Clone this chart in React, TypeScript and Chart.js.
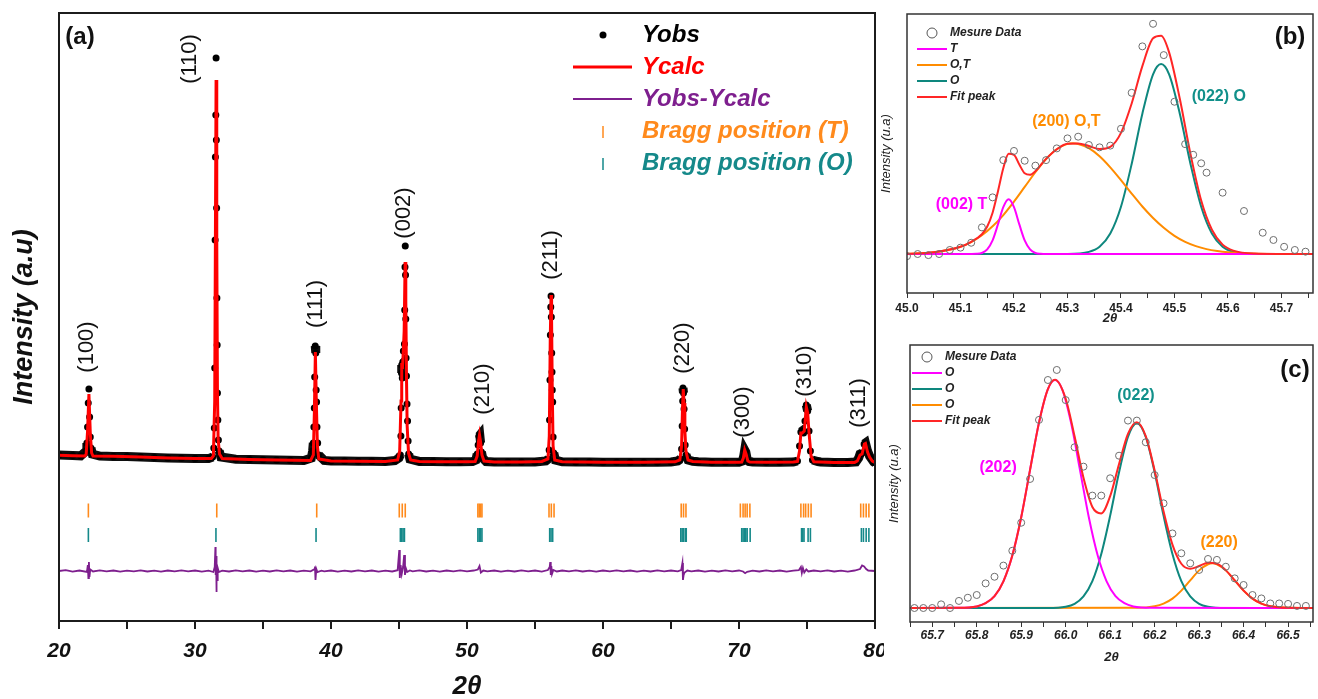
import { useEffect, useRef } from "react";
import { Chart, registerables } from "chart.js";

Chart.register(...registerables);

const SANS = "'Liberation Sans', Arial, Helvetica, sans-serif";

/* ---------------- Panel (a): Rietveld refinement, 2θ = 20–80° ---------------- */

// observed intensity (counts) vs 2θ
const yObs: [number, number][] = [
  [20, 1160], [21, 1156], [21.6, 1152], [22.0, 1200], [22.05, 1280], [22.1, 1440], [22.15, 1680], [22.2, 1820],
  [22.25, 1540], [22.3, 1340], [22.35, 1230], [22.45, 1170], [23, 1150], [24, 1146], [25, 1144], [26, 1140],
  [27, 1134], [28, 1131], [29, 1127], [30, 1125], [31, 1124], [31.3, 1140], [31.38, 1230], [31.42, 1430],
  [31.45, 2030], [31.48, 3310], [31.5, 4140], [31.53, 4560], [31.55, 5130], [31.57, 4310], [31.59, 3630],
  [31.61, 2730], [31.63, 2260], [31.65, 1780], [31.68, 1510], [31.72, 1310], [31.78, 1200], [31.9, 1140],
  [33, 1118], [34, 1115], [35, 1112], [36, 1110], [37, 1107], [38, 1105], [38.55, 1130], [38.65, 1200],
  [38.7, 1280], [38.74, 1440], [38.77, 1630], [38.8, 1940], [38.84, 2250], [38.88, 2180], [38.91, 1810],
  [38.94, 1690], [38.97, 1440], [39.02, 1280], [39.1, 1160], [39.5, 1105], [40, 1100], [41, 1099], [42, 1098],
  [43, 1097], [44, 1096], [44.7, 1105], [45.0, 1130], [45.1, 1160], [45.14, 1350], [45.16, 1630], [45.18, 1980],
  [45.2, 2060], [45.24, 1930], [45.28, 2090], [45.32, 2200], [45.36, 2100], [45.4, 2270], [45.42, 2610],
  [45.44, 3040], [45.46, 3250], [45.48, 2960], [45.5, 2520], [45.52, 2130], [45.55, 1950], [45.59, 1670],
  [45.63, 1500], [45.67, 1300], [45.71, 1170], [45.8, 1120], [46.5, 1096], [47.5, 1094], [48.5, 1093],
  [49.5, 1092], [50.4, 1094], [50.65, 1110], [50.75, 1170], [50.82, 1260], [50.88, 1350], [50.94, 1360],
  [51.0, 1280], [51.06, 1190], [51.15, 1130], [51.4, 1095], [52, 1091], [53, 1090], [54, 1090], [55, 1091],
  [55.8, 1100], [55.98, 1120], [56.04, 1210], [56.07, 1510], [56.1, 1910], [56.13, 2360], [56.16, 2640],
  [56.18, 2750], [56.2, 2540], [56.23, 2180], [56.25, 1990], [56.27, 1810], [56.3, 1690], [56.33, 1340],
  [56.38, 1180], [56.5, 1110], [57, 1092], [58, 1090], [59, 1090], [60, 1088], [61, 1088], [62, 1087],
  [63, 1087], [64, 1088], [65, 1090], [65.5, 1100], [65.7, 1120], [65.78, 1220], [65.82, 1450], [65.86, 1700],
  [65.88, 1830], [65.92, 1780], [65.96, 1620], [66.0, 1420], [66.04, 1260], [66.1, 1160], [66.25, 1110],
  [66.6, 1098], [67, 1092], [68, 1088], [69, 1087], [70, 1088], [70.25, 1100], [70.35, 1150], [70.42, 1210],
  [70.5, 1190], [70.6, 1120], [70.75, 1095], [71, 1090], [72, 1088], [73, 1087], [74, 1090], [74.3, 1100],
  [74.45, 1250], [74.55, 1390], [74.65, 1400], [74.75, 1380], [74.85, 1500], [74.95, 1660], [75.05, 1600],
  [75.15, 1400], [75.25, 1200], [75.4, 1110], [75.8, 1095], [76, 1090], [77, 1086], [78, 1085], [78.6, 1090],
  [78.8, 1130], [78.9, 1170], [79.05, 1180], [79.2, 1270], [79.3, 1280], [79.45, 1200], [79.6, 1150],
  [79.75, 1120], [79.9, 1090], [80, 1082],
];

// calculated profile
const yCalc: [number, number][] = [
  [20, 1158], [21, 1153], [21.9, 1150], [22.0, 1170], [22.1, 1400], [22.2, 1770], [22.3, 1380], [22.4, 1180],
  [22.5, 1150], [24, 1147], [26, 1140], [28, 1130], [30, 1125], [31.2, 1125], [31.35, 1150], [31.45, 1700],
  [31.5, 3300], [31.55, 4910], [31.6, 3300], [31.65, 1800], [31.7, 1320], [31.8, 1170], [32, 1125], [34, 1115],
  [36, 1110], [38.5, 1106], [38.7, 1160], [38.78, 1600], [38.85, 2190], [38.92, 1700], [39.0, 1250],
  [39.1, 1120], [40, 1100], [42, 1098], [44, 1096], [44.9, 1110], [45.05, 1200], [45.15, 1700], [45.2, 2080],
  [45.25, 2020], [45.3, 2150], [45.38, 2400], [45.45, 3090], [45.5, 2700], [45.55, 1950], [45.6, 1450],
  [45.7, 1180], [45.85, 1110], [46.5, 1095], [48, 1093], [50, 1092], [50.6, 1095], [50.75, 1150],
  [50.85, 1300], [50.92, 1360], [51.0, 1290], [51.1, 1160], [51.25, 1100], [52, 1090], [54, 1090],
  [55.5, 1095], [55.95, 1120], [56.05, 1350], [56.12, 2300], [56.18, 2760], [56.22, 2500], [56.27, 1800],
  [56.33, 1250], [56.45, 1110], [57, 1092], [60, 1088], [63, 1087], [65.3, 1092], [65.65, 1110],
  [65.78, 1250], [65.84, 1600], [65.9, 1820], [65.96, 1680], [66.02, 1400], [66.1, 1200], [66.25, 1110],
  [66.6, 1095], [68, 1088], [70, 1088], [70.2, 1090], [70.32, 1130], [70.42, 1210], [70.52, 1170],
  [70.65, 1100], [70.8, 1090], [72, 1088], [74, 1090], [74.3, 1095], [74.45, 1200], [74.55, 1380],
  [74.65, 1380], [74.8, 1400], [74.95, 1640], [75.05, 1580], [75.15, 1380], [75.3, 1150], [75.5, 1092],
  [77, 1086], [78.5, 1086], [78.7, 1100], [78.9, 1160], [79.05, 1170], [79.22, 1270], [79.3, 1275],
  [79.45, 1190], [79.6, 1140], [79.8, 1100], [80, 1085],
];

// difference curve Yobs - Ycalc
const yDiff: [number, number][] = [
  [20, 0], [20.5, 8], [21, -6], [21.5, 5], [22.05, -10], [22.12, 60], [22.16, -70], [22.2, 90], [22.24, -60],
  [22.3, 15], [22.5, -5], [23, 6], [23.5, -4], [24, 5], [24.5, -6], [25, 4], [25.5, -3], [26, 6], [26.5, -5],
  [27, 3], [27.5, -6], [28, 5], [28.5, -4], [29, 6], [29.5, -3], [30, 5], [30.5, -6], [31, 4], [31.35, -10],
  [31.45, 40], [31.5, 240], [31.52, -40], [31.55, 150], [31.57, -210], [31.6, 60], [31.63, -90], [31.67, 30],
  [31.75, -10], [32, 4], [32.5, -5], [33, 6], [33.5, -4], [34, 5], [34.5, -6], [35, 3], [35.5, -5], [36, 6],
  [36.5, -4], [37, 5], [37.5, -6], [38, 4], [38.5, -3], [38.75, 15], [38.82, 45], [38.86, -90], [38.92, 20],
  [39.0, -10], [39.3, 4], [39.5, -4], [40, 5], [40.5, -6], [41, 4], [41.5, -5], [42, 6], [42.5, -3], [43, 5],
  [43.5, -6], [44, 4], [44.5, -5], [44.9, 8], [45.02, 210], [45.06, -70], [45.12, 60], [45.2, -30], [45.3, 40],
  [45.38, 160], [45.44, -40], [45.5, 30], [45.6, -10], [45.8, 5], [46, -4], [46.5, 6], [47, -5], [47.5, 4],
  [48, -6], [48.5, 5], [49, -3], [49.5, 6], [50, -4], [50.5, 5], [50.8, 15], [50.92, 50], [51.02, -15],
  [51.2, 5], [51.5, -4], [52, 5], [52.5, -6], [53, 4], [53.5, -5], [54, 6], [54.5, -3], [55, 5], [55.5, -6],
  [55.95, 10], [56.08, 40], [56.12, 90], [56.16, -40], [56.2, 50], [56.25, -30], [56.35, 10], [56.6, -5],
  [57, 5], [57.5, -4], [58, 6], [58.5, -5], [59, 4], [59.5, -6], [60, 5], [60.5, -3], [61, 6], [61.5, -4],
  [62, 5], [62.5, -6], [63, 4], [63.5, -5], [64, 6], [64.5, -3], [65, 5], [65.5, -4], [65.75, 10],
  [65.84, 80], [65.88, -90], [65.93, -40], [66.0, -15], [66.2, 5], [66.5, -4], [67, 5], [67.5, -6], [68, 4],
  [68.5, -5], [69, 6], [69.5, -3], [70, 5], [70.3, -5], [70.45, -22], [70.6, -8], [71, 4], [71.5, -5],
  [72, 6], [72.5, -4], [73, 5], [73.5, -6], [74, 4], [74.4, 8], [74.55, 40], [74.62, -20], [74.7, 30],
  [74.8, -15], [74.95, 15], [75.1, -5], [75.5, 5], [76, -4], [76.5, 6], [77, -5], [77.5, 4], [78, -6],
  [78.5, 5], [78.9, 20], [79.05, 55], [79.2, 45], [79.35, 20], [79.5, 5], [80, 0],
];

// Bragg reflections of the two phases
const braggT = [
  22.16, 31.6, 38.95, 45.02, 45.24, 45.46, 50.8, 50.9, 51.0, 51.1, 56.03, 56.2, 56.4, 65.75, 65.92, 66.1,
  70.1, 70.3, 70.45, 70.6, 70.8, 74.55, 74.75, 74.9, 75.1, 75.3, 78.95, 79.15, 79.35, 79.55,
];
const braggO = [
  22.16, 31.54, 38.9, 45.1, 45.2, 45.3, 45.4, 50.8, 50.9, 51.0, 51.1, 56.08, 56.18, 56.3, 65.72, 65.82,
  65.92, 66.05, 66.12, 70.2, 70.3, 70.4, 70.5, 70.6, 70.82, 74.6, 74.68, 74.78, 75.08, 75.25, 79.0, 79.15,
  79.35, 79.55,
];
const BRAGG_T_ROW = 605;
const BRAGG_O_ROW = 360;

// Miller indices placed next to the reflections
const hklText = ["(100)", "(110)", "(111)", "(002)", "(210)", "(211)", "(220)", "(300)", "(310)", "(311)"];
const hklTheta = [22.06, 29.63, 38.9, 45.37, 51.18, 56.18, 65.88, 70.29, 74.85, 78.82];
const hklLevel = [2240, 5120, 2670, 3580, 1820, 3160, 2230, 1590, 2000, 1680];

/* ---------------- Panel (b): deconvolution around 45.3° ---------------- */

const bObs: [number, number][] = [
  [45.0, -0.01], [45.02, 0], [45.04, -0.005], [45.06, 0], [45.08, 0.019], [45.1, 0.03], [45.12, 0.053],
  [45.14, 0.125], [45.16, 0.266], [45.18, 0.441], [45.2, 0.484], [45.22, 0.438], [45.24, 0.415],
  [45.26, 0.441], [45.28, 0.496], [45.3, 0.543], [45.32, 0.551], [45.34, 0.512], [45.36, 0.501],
  [45.38, 0.509], [45.4, 0.588], [45.42, 0.757], [45.44, 0.975], [45.46, 1.081], [45.48, 0.934],
  [45.5, 0.715], [45.52, 0.516], [45.535, 0.466], [45.55, 0.426], [45.56, 0.382], [45.59, 0.288],
  [45.63, 0.202], [45.665, 0.1], [45.685, 0.066], [45.705, 0.034], [45.725, 0.019], [45.745, 0.011],
];
const bT: [number, number][] = [
  [45.0, 0], [45.12, 0.0005], [45.13, 0.001], [45.14, 0.005], [45.15, 0.022], [45.16, 0.064], [45.17, 0.139],
  [45.18, 0.22], [45.19, 0.257], [45.2, 0.22], [45.21, 0.139], [45.22, 0.064], [45.23, 0.022], [45.24, 0.005],
  [45.25, 0.001], [45.26, 0], [45.76, 0],
];
const bOT: [number, number][] = [
  [45.0, 0.0014], [45.05, 0.008], [45.1, 0.034], [45.12, 0.056], [45.14, 0.088], [45.16, 0.13], [45.18, 0.183],
  [45.2, 0.246], [45.22, 0.315], [45.24, 0.384], [45.26, 0.446], [45.28, 0.492], [45.3, 0.517], [45.31, 0.52],
  [45.32, 0.517], [45.34, 0.497], [45.36, 0.459], [45.38, 0.407], [45.4, 0.347], [45.42, 0.284],
  [45.44, 0.223], [45.46, 0.169], [45.48, 0.123], [45.5, 0.085], [45.52, 0.057], [45.54, 0.037],
  [45.56, 0.023], [45.58, 0.014], [45.6, 0.008], [45.64, 0.002], [45.68, 0.0005], [45.76, 0],
];
const bO: [number, number][] = [
  [45.0, 0], [45.3, 0.0005], [45.34, 0.01], [45.36, 0.034], [45.38, 0.096], [45.4, 0.222], [45.42, 0.423],
  [45.44, 0.659], [45.46, 0.844], [45.475, 0.892], [45.49, 0.844], [45.51, 0.659], [45.53, 0.423],
  [45.55, 0.222], [45.57, 0.096], [45.59, 0.034], [45.61, 0.01], [45.65, 0.0005], [45.76, 0],
];
const bFit: [number, number][] = [
  [45.0, 0.0014], [45.05, 0.008], [45.1, 0.034], [45.12, 0.057], [45.14, 0.093], [45.15, 0.129], [45.16, 0.194],
  [45.17, 0.294], [45.18, 0.403], [45.19, 0.471], [45.2, 0.466], [45.21, 0.42], [45.22, 0.379], [45.23, 0.372],
  [45.24, 0.389], [45.26, 0.447], [45.28, 0.492], [45.3, 0.518], [45.32, 0.519], [45.34, 0.507],
  [45.36, 0.493], [45.38, 0.503], [45.4, 0.569], [45.42, 0.707], [45.44, 0.882], [45.46, 1.013],
  [45.475, 1.025], [45.49, 0.947], [45.51, 0.729], [45.53, 0.469], [45.55, 0.251], [45.57, 0.114],
  [45.59, 0.044], [45.61, 0.016], [45.65, 0.002], [45.7, 0.0003], [45.76, 0],
];

/* ---------------- Panel (c): deconvolution around 66.1° ---------------- */

const cObs: [number, number][] = [
  [65.66, 0], [65.68, 0], [65.7, 0], [65.72, 0.016], [65.74, 0], [65.76, 0.031], [65.78, 0.045], [65.8, 0.057],
  [65.82, 0.108], [65.84, 0.137], [65.86, 0.186], [65.88, 0.251], [65.9, 0.374], [65.92, 0.566],
  [65.94, 0.825], [65.96, 1.0], [65.98, 1.044], [66.0, 0.912], [66.02, 0.705], [66.04, 0.62], [66.06, 0.493],
  [66.08, 0.493], [66.1, 0.569], [66.12, 0.668], [66.14, 0.822], [66.16, 0.822], [66.18, 0.727],
  [66.2, 0.583], [66.22, 0.459], [66.24, 0.327], [66.26, 0.24], [66.28, 0.196], [66.3, 0.167],
  [66.32, 0.215], [66.34, 0.211], [66.36, 0.181], [66.38, 0.13], [66.4, 0.101], [66.42, 0.057],
  [66.44, 0.042], [66.46, 0.02], [66.48, 0.02], [66.5, 0.018], [66.52, 0.009], [66.54, 0.009],
];
const c202: [number, number][] = [
  [65.65, 0], [65.76, 0.0006], [65.8, 0.007], [65.82, 0.021], [65.84, 0.052], [65.86, 0.117], [65.88, 0.23],
  [65.9, 0.398], [65.92, 0.607], [65.94, 0.813], [65.96, 0.96], [65.976, 1.0], [65.992, 0.96], [66.012, 0.813],
  [66.032, 0.607], [66.052, 0.398], [66.072, 0.23], [66.092, 0.117], [66.112, 0.052], [66.132, 0.021],
  [66.152, 0.007], [66.192, 0.0006], [66.556, 0],
];
const c022: [number, number][] = [
  [65.65, 0], [65.96, 0.0004], [66.0, 0.0059], [66.02, 0.0186], [66.04, 0.051], [66.06, 0.118], [66.08, 0.237],
  [66.1, 0.405], [66.12, 0.595], [66.14, 0.75], [66.16, 0.81], [66.18, 0.75], [66.2, 0.595], [66.22, 0.405],
  [66.24, 0.237], [66.26, 0.118], [66.28, 0.051], [66.3, 0.0186], [66.32, 0.0059], [66.36, 0.0004], [66.556, 0],
];
const c220: [number, number][] = [
  [65.65, 0], [66.16, 0.0008], [66.2, 0.0076], [66.22, 0.019], [66.24, 0.041], [66.26, 0.076], [66.28, 0.121],
  [66.3, 0.165], [66.32, 0.192], [66.33, 0.196], [66.34, 0.192], [66.36, 0.165], [66.38, 0.121], [66.4, 0.076],
  [66.42, 0.041], [66.44, 0.019], [66.46, 0.0076], [66.5, 0.0008], [66.556, 0],
];
const cFit: [number, number][] = [
  [65.65, 0], [65.76, 0.0006], [65.8, 0.007], [65.82, 0.021], [65.84, 0.052], [65.86, 0.117], [65.88, 0.23],
  [65.9, 0.398], [65.92, 0.607], [65.94, 0.813], [65.96, 0.96], [65.976, 1.001], [66.0, 0.918], [66.02, 0.753],
  [66.04, 0.571], [66.06, 0.443], [66.08, 0.415], [66.1, 0.491], [66.12, 0.632], [66.14, 0.764],
  [66.16, 0.815], [66.18, 0.754], [66.2, 0.603], [66.22, 0.424], [66.24, 0.278], [66.26, 0.194],
  [66.28, 0.172], [66.3, 0.184], [66.32, 0.198], [66.34, 0.194], [66.36, 0.165], [66.38, 0.121],
  [66.4, 0.076], [66.42, 0.041], [66.44, 0.019], [66.46, 0.0076], [66.5, 0.0008], [66.556, 0],
];

/* ---------------- styling ---------------- */

const RED = "#ff0000";
const PURPLE = "#7e1f8e";
const ORANGE = "#ff8a1c";
const TEAL = "#15898a";
const MAGENTA = "#ff00ff";
const FIT_ORANGE = "#ff8c00";
const FIT_TEAL = "#0e877e";
const FIT_RED = "#ff2626";

const pts = (a: [number, number][]) => a.map(([x, y]) => ({ x, y }));
const isTenth = (v: number) => Math.abs(v * 10 - Math.round(v * 10)) < 1e-6;

function txt(ctx: CanvasRenderingContext2D, s: string, x: number, y: number, font: string, color: string, align: CanvasTextAlign = "left", rotate = false) {
  ctx.save();
  ctx.font = font;
  ctx.fillStyle = color;
  ctx.textAlign = align;
  ctx.textBaseline = "middle";
  ctx.translate(x, y);
  if (rotate) ctx.rotate(-Math.PI / 2);
  ctx.fillText(s, 0, 0);
  ctx.restore();
}

const baseOptions = {
  animation: false as const,
  responsive: false,
  devicePixelRatio: 1,
  events: [] as any[],
  plugins: { legend: { display: false }, tooltip: { enabled: false } },
};

/* ---------------- chart builders ---------------- */

function makeRietveld(): any {
  const overlay = {
    id: "rietveldOverlay",
    afterDraw(chart: any) {
      const { ctx, chartArea: a, scales } = chart;
      ctx.save();
      ctx.strokeStyle = "#1c1c1c";
      ctx.lineWidth = 2;
      ctx.strokeRect(a.left, a.top, a.right - a.left, a.bottom - a.top);
      ctx.restore();

      txt(ctx, "(a)", 80, 37, `bold 24px ${SANS}`, "#111", "center");

      hklText.forEach((s, i) => {
        const x = scales.x.getPixelForValue(hklTheta[i]);
        const y = scales.y.getPixelForValue(hklLevel[i]);
        txt(ctx, s, x, y, `22px ${SANS}`, "#111", "center", true);
      });

      // legend
      const lf = `italic bold 24px ${SANS}`;
      const mx = 603;
      const tx = 642;
      ctx.save();
      ctx.fillStyle = "#000";
      ctx.beginPath();
      ctx.arc(mx, 35, 3.5, 0, Math.PI * 2);
      ctx.fill();
      ctx.lineWidth = 3;
      ctx.strokeStyle = RED;
      ctx.beginPath();
      ctx.moveTo(573, 67);
      ctx.lineTo(632, 67);
      ctx.stroke();
      ctx.lineWidth = 2;
      ctx.strokeStyle = PURPLE;
      ctx.beginPath();
      ctx.moveTo(573, 99);
      ctx.lineTo(632, 99);
      ctx.stroke();
      ctx.lineWidth = 1.5;
      ctx.strokeStyle = ORANGE;
      ctx.beginPath();
      ctx.moveTo(mx, 126);
      ctx.lineTo(mx, 138);
      ctx.stroke();
      ctx.strokeStyle = TEAL;
      ctx.beginPath();
      ctx.moveTo(mx, 158);
      ctx.lineTo(mx, 170);
      ctx.stroke();
      ctx.restore();
      txt(ctx, "Yobs", tx, 35, lf, "#000");
      txt(ctx, "Ycalc", tx, 67, lf, RED);
      txt(ctx, "Yobs-Ycalc", tx, 99, lf, PURPLE);
      txt(ctx, "Bragg position (T)", tx, 131, lf, ORANGE);
      txt(ctx, "Bragg position (O)", tx, 163, lf, TEAL);
    },
  };

  return {
    type: "line",
    data: {
      datasets: [
        { data: pts(yCalc), borderColor: RED, borderWidth: 3, pointRadius: 0, tension: 0 },
        { data: pts(yObs), showLine: false, pointRadius: 3.5, pointBackgroundColor: "#000", pointBorderWidth: 0 },
        {
          data: pts(yObs),
          borderColor: "#0d0d0d",
          borderWidth: 9,
          pointRadius: 0,
          tension: 0,
          segment: {
            borderColor: (c: any) => (Math.abs(c.p1.parsed.y - c.p0.parsed.y) > 80 ? "rgba(0,0,0,0)" : undefined),
          },
        },
        { data: pts(yDiff), borderColor: PURPLE, borderWidth: 1.8, pointRadius: 0, tension: 0 },
        {
          data: braggT.map((x) => ({ x, y: BRAGG_T_ROW })),
          showLine: false,
          pointStyle: "line",
          pointRotation: 90,
          pointRadius: 7,
          pointBorderColor: ORANGE,
          pointBorderWidth: 1.6,
        },
        {
          data: braggO.map((x) => ({ x, y: BRAGG_O_ROW })),
          showLine: false,
          pointStyle: "line",
          pointRotation: 90,
          pointRadius: 7,
          pointBorderColor: TEAL,
          pointBorderWidth: 1.6,
        },
      ],
    },
    options: {
      ...baseOptions,
      layout: { padding: { top: 13, right: 25, left: 0, bottom: 0 } },
      scales: {
        x: {
          type: "linear",
          min: 20,
          max: 80,
          ticks: {
            stepSize: 5,
            includeBounds: false,
            autoSkip: false,
            maxRotation: 0,
            padding: 10,
            color: "#111",
            font: { family: SANS, size: 21, style: "italic", weight: "bold" },
            callback: (v: any) => (Number(v) % 10 === 0 ? String(v) : ""),
          },
          grid: { display: true, drawOnChartArea: false, drawTicks: true, tickLength: 8, color: "#1c1c1c", lineWidth: 2 },
          border: { display: false },
          title: {
            display: true,
            text: "2θ",
            color: "#111",
            font: { family: SANS, size: 26, style: "italic", weight: "bold", lineHeight: 1 },
            padding: { top: 0, bottom: -1 },
          },
          afterFit: (s: any) => {
            s.height = 78;
            s.paddingLeft = 0;
            s.paddingRight = 0;
          },
        },
        y: {
          type: "linear",
          min: -500,
          max: 5580,
          ticks: { display: false },
          grid: { display: false },
          border: { display: false },
          title: {
            display: true,
            text: "Intensity (a.u)",
            color: "#111",
            font: { family: SANS, size: 27, style: "italic", weight: "bold", lineHeight: 1 },
            padding: { top: 11.5, bottom: 0 },
          },
          afterFit: (s: any) => {
            s.width = 59;
          },
        },
      },
    },
    plugins: [overlay],
  };
}

type Curve = { label: string; color: string; data: [number, number][] };
type Note = { text: string; color: string; x: number; y: number };

function makeFitPanel(p: {
  id: string;
  obs: [number, number][];
  components: Curve[];
  fit: Curve;
  xMin: number;
  xMax: number;
  yMin: number;
  yMax: number;
  tag: string;
  tagX: number;
  tagY: number;
  legendX: number;
  legendY: number;
  notes: Note[];
  padTop: number;
  padRight: number;
  yWidth: number;
  xHeight: number;
  yTitlePad: number;
  xTitlePad: number;
  tickPad: number;
  tickStyle: "normal" | "italic";
}): any {
  const overlay = {
    id: p.id,
    afterDraw(chart: any) {
      const { ctx, chartArea: a, scales } = chart;
      ctx.save();
      ctx.strokeStyle = "#333";
      ctx.lineWidth = 1.5;
      ctx.strokeRect(a.left, a.top, a.right - a.left, a.bottom - a.top);

      // legend
      const lx = p.legendX;
      const ly = p.legendY;
      ctx.strokeStyle = "#555";
      ctx.lineWidth = 1;
      ctx.beginPath();
      ctx.arc(lx + 15, ly, 5, 0, Math.PI * 2);
      ctx.stroke();
      [...p.components, p.fit].forEach((c, i) => {
        const y = ly + 16 * (i + 1);
        ctx.strokeStyle = c.color;
        ctx.lineWidth = 2;
        ctx.beginPath();
        ctx.moveTo(lx, y);
        ctx.lineTo(lx + 30, y);
        ctx.stroke();
      });
      ctx.restore();
      const lf = `italic bold 12px ${SANS}`;
      txt(ctx, "Mesure Data", lx + 33, ly, lf, "#222");
      [...p.components, p.fit].forEach((c, i) => txt(ctx, c.label, lx + 33, ly + 16 * (i + 1), lf, "#222"));

      txt(ctx, p.tag, p.tagX, p.tagY, `bold 24px ${SANS}`, "#111", "center");
      p.notes.forEach((n) =>
        txt(ctx, n.text, scales.x.getPixelForValue(n.x), scales.y.getPixelForValue(n.y), `bold 16px ${SANS}`, n.color, "center")
      );
    },
  };

  const curveDs = (c: Curve) => ({
    data: pts(c.data),
    borderColor: c.color,
    borderWidth: 2,
    pointRadius: 0,
    cubicInterpolationMode: "monotone",
  });

  return {
    type: "line",
    data: {
      datasets: [
        {
          data: pts(p.obs),
          showLine: false,
          pointRadius: 3.5,
          pointBorderColor: "#6e6e6e",
          pointBackgroundColor: "rgba(0,0,0,0)",
          pointBorderWidth: 1,
        },
        curveDs(p.fit),
        ...p.components.map(curveDs),
      ],
    },
    options: {
      ...baseOptions,
      layout: { padding: { top: p.padTop, right: p.padRight, left: 0, bottom: 0 } },
      scales: {
        x: {
          type: "linear",
          min: p.xMin,
          max: p.xMax,
          ticks: {
            stepSize: 0.05,
            includeBounds: false,
            autoSkip: false,
            maxRotation: 0,
            padding: p.tickPad,
            color: "#222",
            font: { family: SANS, size: 12, weight: "bold", style: p.tickStyle },
            callback: (v: any) => (isTenth(Number(v)) ? Number(v).toFixed(1) : ""),
          },
          grid: { display: true, drawOnChartArea: false, drawTicks: true, tickLength: 5, color: "#333", lineWidth: 1 },
          border: { display: false },
          title: {
            display: true,
            text: "2θ",
            color: "#222",
            font: { family: SANS, size: 13, style: "italic", weight: "bold", lineHeight: 1 },
            padding: { top: 0, bottom: p.xTitlePad },
          },
          afterFit: (s: any) => {
            s.height = p.xHeight;
            s.paddingLeft = 0;
            s.paddingRight = 0;
          },
        },
        y: {
          type: "linear",
          min: p.yMin,
          max: p.yMax,
          ticks: { display: false },
          grid: { display: false },
          border: { display: false },
          title: {
            display: true,
            text: "Intensity (u.a)",
            color: "#222",
            font: { family: SANS, size: 13, style: "italic", lineHeight: 1 },
            padding: { top: p.yTitlePad, bottom: 0 },
          },
          afterFit: (s: any) => {
            s.width = p.yWidth;
          },
        },
      },
    },
    plugins: [overlay],
  };
}

const makeFitB = () =>
  makeFitPanel({
    id: "fitB",
    obs: bObs,
    components: [
      { label: "T", color: MAGENTA, data: bT },
      { label: "O,T", color: FIT_ORANGE, data: bOT },
      { label: "O", color: FIT_TEAL, data: bO },
    ],
    fit: { label: "Fit peak", color: FIT_RED, data: bFit },
    xMin: 45.0,
    xMax: 45.759,
    yMin: -0.183,
    yMax: 1.127,
    tag: "(b)",
    tagX: 430,
    tagY: 37,
    legendX: 57,
    legendY: 33,
    notes: [
      { text: "(002) T", color: MAGENTA, x: 45.102, y: 0.23 },
      { text: "(200) O,T", color: FIT_ORANGE, x: 45.298, y: 0.624 },
      { text: "(022) O", color: "#11908a", x: 45.583, y: 0.737 },
    ],
    padTop: 14,
    padRight: 1,
    yWidth: 47,
    xHeight: 37,
    yTitlePad: 19.5,
    xTitlePad: 5.5,
    tickPad: 3,
    tickStyle: "normal",
  });

const makeFitC = () =>
  makeFitPanel({
    id: "fitC",
    obs: cObs,
    components: [
      { label: "O", color: MAGENTA, data: c202 },
      { label: "O", color: FIT_TEAL, data: c022 },
      { label: "O", color: FIT_ORANGE, data: c220 },
    ],
    fit: { label: "Fit peak", color: FIT_RED, data: cFit },
    xMin: 65.65,
    xMax: 66.556,
    yMin: -0.0614,
    yMax: 1.1535,
    tag: "(c)",
    tagX: 435,
    tagY: 40,
    legendX: 52,
    legendY: 27,
    notes: [
      { text: "(202)", color: MAGENTA, x: 65.848, y: 0.618 },
      { text: "(022)", color: "#11908a", x: 66.158, y: 0.93 },
      { text: "(220)", color: FIT_ORANGE, x: 66.345, y: 0.285 },
    ],
    padTop: 15,
    padRight: 5,
    yWidth: 50,
    xHeight: 77,
    yTitlePad: 27.5,
    xTitlePad: 35.5,
    tickPad: 1,
    tickStyle: "italic",
  });

function ChartCanvas({ make, width, height, left, top }: { make: () => any; width: number; height: number; left: number; top: number }) {
  const ref = useRef<HTMLCanvasElement | null>(null);
  useEffect(() => {
    if (!ref.current) return;
    const chart = new Chart(ref.current, make());
    return () => chart.destroy();
  }, [make]);
  return (
    <canvas
      ref={ref}
      width={width}
      height={height}
      style={{ position: "absolute", left, top, width, height, display: "block" }}
    />
  );
}

export default function App() {
  return (
    <div style={{ position: "fixed", left: 0, top: 0, width: 1318, height: 699, background: "#fff", overflow: "hidden" }}>
      <div style={{ position: "absolute", left: 0, top: 0, width: 884, height: 699, overflow: "hidden" }}>
        <ChartCanvas make={makeRietveld} width={900} height={699} left={0} top={0} />
      </div>
      <ChartCanvas make={makeFitB} width={458} height={330} left={860} top={0} />
      <ChartCanvas make={makeFitC} width={458} height={369} left={860} top={330} />
    </div>
  );
}
